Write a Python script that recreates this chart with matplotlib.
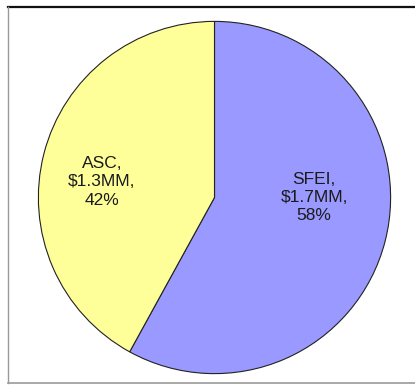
import matplotlib.pyplot as plt
from matplotlib.lines import Line2D

plt.rcParams['font.family'] = ['Liberation Sans', 'DejaVu Sans']

names = ['SFEI', 'ASC']
amounts = ['$1.7MM', '$1.3MM']
shares = [58, 42]
colors = ['#9999ff', '#ffff99']
label_pos = [(0.565, 0.0), (-0.64, 0.09)]

fig = plt.figure(figsize=(4.15, 3.85), dpi=100)
W, H = 415, 385
cx, cy, r = 214.5, 187.5, 177
ax = fig.add_axes([(cx - r) / W, (cy - r) / H, 2 * r / W, 2 * r / H])

wedges, _ = ax.pie(shares, colors=colors, startangle=90, counterclock=False,
                   wedgeprops=dict(edgecolor='#222222', linewidth=0.8))
ax.set_xlim(-1.005, 1.005)
ax.set_ylim(-1.005, 1.005)

for name, amt, pct, (x, y) in zip(names, amounts, shares, label_pos):
    ax.text(x, y, f'{name},\n{amt},\n{pct}%', ha='center', va='center',
            fontsize=12.5, linespacing=1.28, color='#1a1a1a')

# chart frame
fig.add_artist(Line2D([8 / W, 1], [1 - 6.5 / H] * 2, color='#111111', lw=1.6,
                      transform=fig.transFigure))
fig.add_artist(Line2D([8 / W] * 2, [1 - 6.5 / H, 1 - 383 / H], color='#999999', lw=1,
                      transform=fig.transFigure))
fig.add_artist(Line2D([8 / W, 1], [1 - 383 / H] * 2, color='#999999', lw=1.2,
                      transform=fig.transFigure))

fig.savefig('out.png', dpi=100)
